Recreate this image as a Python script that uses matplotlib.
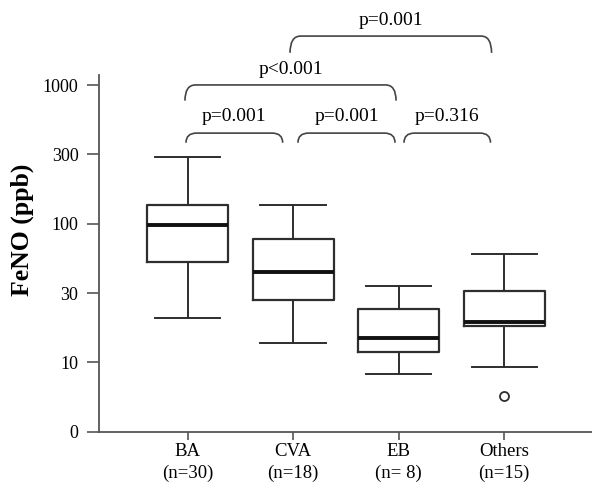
import numpy as np
import matplotlib
matplotlib.use('Agg')
import matplotlib.pyplot as plt
from matplotlib.path import Path
from matplotlib.patches import PathPatch

plt.rcParams['font.family'] = ['Liberation Serif', 'DejaVu Serif']

# data (FeNO, ppb)
groups = ['BA', 'CVA', 'EB', 'Others']
n_counts = [30, 18, 8, 15]
whis_hi = [290, 134, 34.1, 59.6]
q3 = [134, 76.9, 23.3, 31.2]
median = [97.5, 43.0, 14.7, 19.0]
q1 = [51.6, 26.9, 11.7, 17.9]
whis_lo = [20.2, 13.7, 8.3, 9.4]
fliers = [[], [], [], [5.2]]

# pairwise comparisons: (group a, group b, label)
pairs = [(0, 1, 'p=0.001'), (1, 2, 'p=0.001'), (2, 3, 'p=0.316'),
         (0, 2, 'p<0.001'), (1, 3, 'p=0.001')]

ytick_vals = [0, 10, 30, 100, 300, 1000]
ytick_labels = ['0', '10', '30', '100', '300', '1000']

# axis: 0-10 linear, then equally spaced 10/30/100/300/1000
knots = np.log10([10, 30, 100, 300, 1000, 3000])
kpos = np.arange(1, 7)


def fwd(v):
    v = np.asarray(v, dtype=float)
    lg = np.log10(np.maximum(v, 10))
    return np.where(v < 10, v / 10.0, np.interp(lg, knots, kpos))


def inv(p):
    p = np.asarray(p, dtype=float)
    return np.where(p < 1, p * 10.0, 10 ** np.interp(p, kpos, knots))


fig = plt.figure(figsize=(5.92, 4.88), dpi=100)
ax = fig.add_axes([0.1677, 0.1154, 0.8323, 0.731])
ax.set_yscale('function', functions=(fwd, inv))

stats = []
for i in range(len(groups)):
    stats.append(dict(med=median[i], q1=q1[i], q3=q3[i],
                      whislo=whis_lo[i], whishi=whis_hi[i], fliers=fliers[i]))

edge = '#2e2e2e'
ax.bxp(stats, positions=[1, 2, 3, 4], widths=0.77, capwidths=0.62,
       boxprops=dict(color=edge, linewidth=1.6),
       whiskerprops=dict(color=edge, linewidth=1.4),
       capprops=dict(color=edge, linewidth=1.4),
       medianprops=dict(color='#111111', linewidth=2.8),
       flierprops=dict(marker='o', markersize=6.5, markerfacecolor='none',
                       markeredgecolor=edge, markeredgewidth=1.3))

ax.set_xlim(0.162, 4.832)
ax.set_ylim(0, float(inv(5.147)))
ax.set_yticks(ytick_vals)
ax.set_yticklabels(ytick_labels)
ax.yaxis.set_minor_locator(matplotlib.ticker.NullLocator())
ax.set_xticks([1, 2, 3, 4])
ax.set_xticklabels([f'{g}\n(n={n})' if n >= 10 else f'{g}\n(n= {n})'
                    for g, n in zip(groups, n_counts)], linespacing=1.3)

for s in ['top', 'right']:
    ax.spines[s].set_visible(False)
for s in ['left', 'bottom']:
    ax.spines[s].set_color('#555555')
    ax.spines[s].set_linewidth(1.3)
ax.tick_params(axis='y', length=9, width=1.2, color='#555555', pad=6,
               labelsize=13)
ax.tick_params(axis='x', length=5.8, width=1.2, color='#555555', pad=2.5,
               labelsize=13.5)

ax.set_ylabel('FeNO (ppb)', fontsize=18.5, fontweight='bold')
ax.yaxis.set_label_coords(-0.132, 0.567)

# brackets (x in data, y in axes fraction)
trans = ax.get_xaxis_transform()
levels = [0, 0, 0, 1, 2]
bar_y = [0.837, 0.972, 1.109]
end_y = [0.810, 0.928, 1.062]
text_y = [0.871, 1.003, 1.140]
lo_off = [-0.016, 0.045, 0.05, -0.026, -0.03]
hi_off = [-0.10, -0.035, -0.13, -0.025, -0.12]
r = 0.1
for (a, b, lab), lv, lo, hi in zip(pairs, levels, lo_off, hi_off):
    x1 = a + 1 + lo
    x2 = b + 1 + hi
    yt, ye = bar_y[lv], end_y[lv]
    verts = [(x1, ye), (x1, yt), (x1 + r, yt), (x2 - r, yt), (x2, yt), (x2, ye)]
    codes = [Path.MOVETO, Path.CURVE3, Path.CURVE3, Path.LINETO,
             Path.CURVE3, Path.CURVE3]
    ax.add_patch(PathPatch(Path(verts, codes), transform=trans, fill=False,
                           edgecolor='#444444', linewidth=1.2, clip_on=False))
    ax.text((x1 + x2) / 2, text_y[lv], lab, transform=trans, ha='center',
            va='baseline', fontsize=14)

fig.savefig('out.png', dpi=100)
